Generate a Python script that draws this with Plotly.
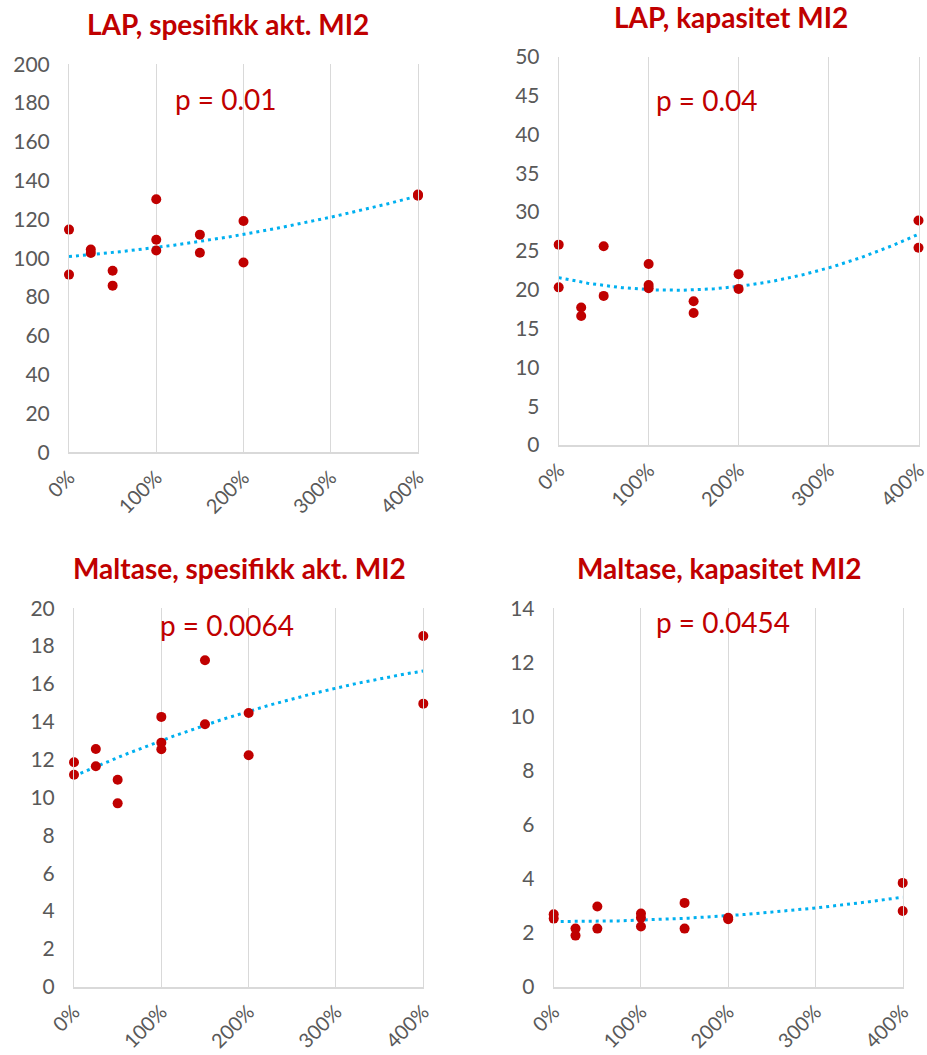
import numpy as np
import plotly.graph_objects as go

# ---- data ----
x_pct = [0, 0, 25, 25, 50, 50, 100, 100, 100, 150, 150, 200, 200, 400, 400]

lap_spec = [114.8, 91.6, 104.5, 102.7, 93.6, 85.9, 130.4, 109.6, 104.0, 112.2, 102.9, 119.2, 97.8, 132.9, 132.3]
lap_kap = [25.8, 20.3, 17.7, 16.6, 25.6, 19.2, 23.3, 20.6, 20.2, 18.5, 17.0, 22.0, 20.1, 28.9, 25.4]
mal_spec = [11.86, 11.2, 12.56, 11.65, 10.94, 9.69, 14.26, 12.9, 12.55, 17.25, 13.87, 14.47, 12.23, 18.54, 14.96]
mal_kap = [2.68, 2.52, 2.15, 1.89, 2.97, 2.15, 2.71, 2.55, 2.23, 3.10, 2.15, 2.55, 2.50, 3.84, 2.80]

titles = ["LAP, spesifikk akt. MI2", "LAP, kapasitet MI2",
          "Maltase, spesifikk akt. MI2", "Maltase, kapasitet MI2"]
p_texts = ["p = 0.01", "p = 0.04", "p = 0.0064", "p = 0.0454"]
y_max = [200, 50, 20, 14]
y_dtick = [20, 5, 2, 2]
x_ticks = [0, 100, 200, 300, 400]
x_tick_labels = ["0%", "100%", "200%", "300%", "400%"]

series = [lap_spec, lap_kap, mal_spec, mal_kap]

# ---- layout geometry (pixels) ----
W, H = 927, 1055
boxes = [  # x0, x1, ytop, ybottom in px
    (69, 418, 64.3, 452.3),
    (558.7, 918.5, 56.7, 445),
    (74, 423.3, 608.3, 986.7),
    (553.7, 902.7, 608.3, 986.7),
]
title_pos = [(228, 24), (731, 17), (240, 568), (719, 568)]
p_pos = [(226, 99), (707, 100), (227, 625), (723, 622)]

RED = "#C00000"
BLUE = "#00B0F0"
GRID = "#D9D9D9"
TXT = "#595959"
FONT = "Lato, Open Sans, sans-serif"

fig = go.Figure()
annotations = []
for i, (ys, box) in enumerate(zip(series, boxes)):
    n = i + 1
    xa = "x" if n == 1 else f"x{n}"
    ya = "y" if n == 1 else f"y{n}"
    coef = np.polyfit(x_pct, ys, 2)
    xf = np.linspace(0, 400, 200)
    yf = np.polyval(coef, xf)
    fig.add_trace(go.Scatter(x=xf, y=yf, mode="lines",
                             line=dict(color=BLUE, width=3, dash="3px,4px"),
                             xaxis=xa, yaxis=ya, showlegend=False, hoverinfo="skip",
                             cliponaxis=False))
    fig.add_trace(go.Scatter(x=x_pct, y=ys, mode="markers",
                             marker=dict(color=RED, size=10),
                             xaxis=xa, yaxis=ya, showlegend=False, cliponaxis=False))
    x0, x1, yt, yb = box
    fig.layout[f"xaxis{'' if n == 1 else n}"] = dict(
        domain=[x0 / W, x1 / W], anchor=ya, range=[0, 400],
        tickvals=x_ticks, ticktext=x_tick_labels, tickangle=-45,
        showgrid=True, gridcolor=GRID, gridwidth=1,
        showline=True, linecolor=GRID, linewidth=1.5,
        zeroline=False, ticks="", ticklabelstandoff=4, automargin=False,
        ticklabeloverflow="allow",
        tickfont=dict(family=FONT, size=20, color=TXT), fixedrange=True)
    fig.layout[f"yaxis{'' if n == 1 else n}"] = dict(
        domain=[1 - yb / H, 1 - yt / H], anchor=xa, range=[0, y_max[i]],
        dtick=y_dtick[i], tick0=0, showgrid=False, zeroline=False,
        showline=True, mirror=True, linecolor=GRID, linewidth=1,
        ticks="", ticklabelstandoff=14, automargin=False,
        tickfont=dict(family=FONT, size=21, color=TXT), fixedrange=True)
    tx, ty = title_pos[i]
    annotations.append(dict(text=f"<b>{titles[i]}</b>", x=tx / W, y=1 - ty / H,
                            xref="paper", yref="paper", showarrow=False,
                            xanchor="center", yanchor="middle",
                            font=dict(family=FONT, size=28, color=RED)))
    px_, py_ = p_pos[i]
    annotations.append(dict(text=p_texts[i], x=px_ / W, y=1 - py_ / H,
                            xref="paper", yref="paper", showarrow=False,
                            xanchor="center", yanchor="middle",
                            font=dict(family=FONT, size=28, color=RED)))

fig.update_layout(width=W, height=H, margin=dict(l=0, r=0, t=0, b=0, autoexpand=False),
                  paper_bgcolor="white", plot_bgcolor="white",
                  annotations=annotations, showlegend=False)
fig.write_html("out.html", config={"displayModeBar": False},
               post_script="document.body.style.margin='0';document.body.style.overflow='hidden';")
